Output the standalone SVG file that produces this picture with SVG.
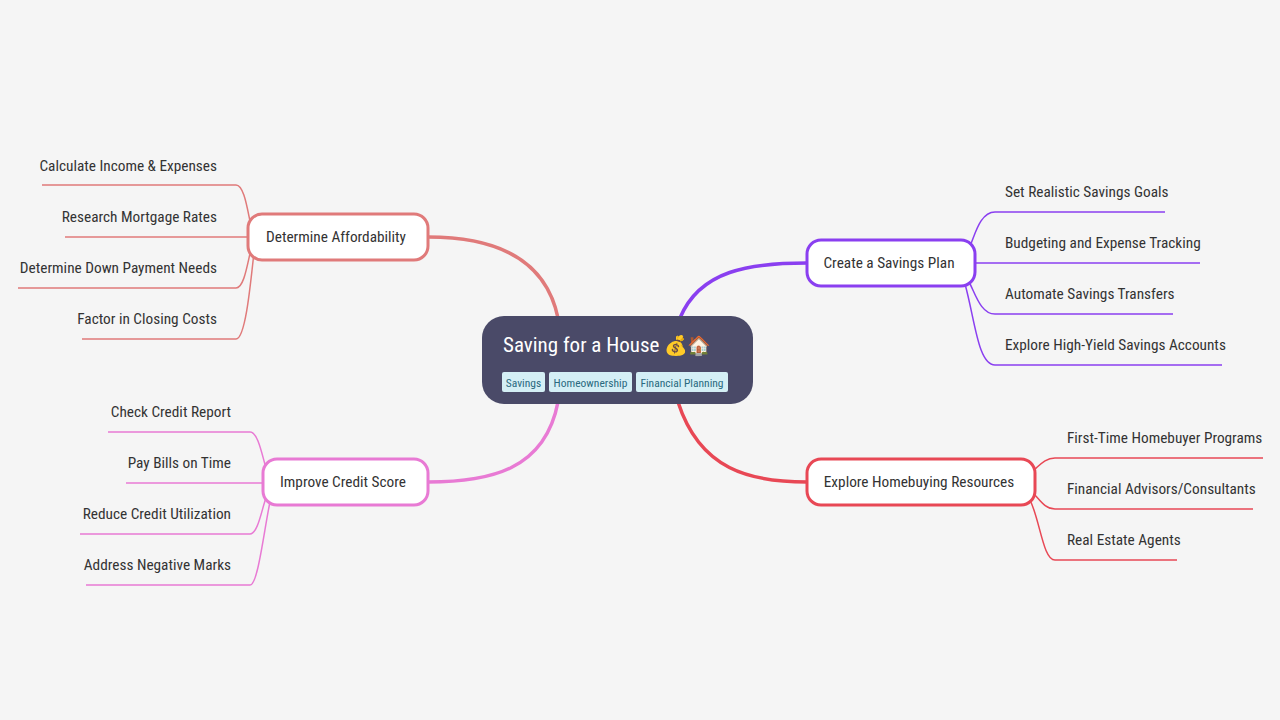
<svg xmlns="http://www.w3.org/2000/svg" width="1280" height="720" viewBox="0 0 1280 720">
<style>
text{font-family:"Liberation Sans Narrow","Roboto Condensed","Open Sans",sans-serif;}
.leaf{font-size:15.3px;fill:#333;}
.node{fill:#fff;stroke-width:3;}
.nt{font-size:15.3px;fill:#333;text-anchor:middle;}
.c{fill:none;stroke-width:1.5;}
.m{fill:none;stroke-width:3.5;}
.tag{fill:#d4eff5;}
.tt{font-size:11.5px;fill:#2a6a80;text-anchor:middle;}
.r{text-anchor:end;}
</style>
<rect width="1280" height="720" fill="#f5f5f5"/>
<g id="connectors">
<path class="m" stroke="#e07a7a" d="M558,318 C545,255 490,237 428,237"/>
<path class="m" stroke="#8a3ff0" d="M680,318 C700,270 750,263 807,263"/>
<path class="m" stroke="#e84855" d="M678,402 C700,470 750,482 807,482"/>
<path class="m" stroke="#e87ad4" d="M558,402 C545,470 490,482 428,482"/>
<g stroke="#e07a7a">
<path class="c" d="M42,185 H236 C245,185 248,215 252,230"/>
<path class="c" d="M65,237 H248"/>
<path class="c" d="M18,288 H236 C245,288 248,258 252,246"/>
<path class="c" d="M82,339 H236 C245,339 250,290 254,252"/>
</g>
<g stroke="#8a3ff0">
<path class="c" d="M1165,212 H995 C980,212 975,235 970,246"/>
<path class="c" d="M1200,263 H975"/>
<path class="c" d="M1173,314 H995 C980,314 975,292 968,280"/>
<path class="c" d="M1222,365 H995 C978,365 975,320 965,284"/>
</g>
<g stroke="#e84855">
<path class="c" d="M1263,458 H1055 C1045,458 1040,465 1034,470"/>
<path class="c" d="M1253,509 H1055 C1045,509 1040,500 1034,494"/>
<path class="c" d="M1177,560 H1055 C1043,560 1040,520 1030,500"/>
</g>
<g stroke="#e87ad4">
<path class="c" d="M108,432 H250 C258,432 262,455 266,468"/>
<path class="c" d="M126,483 H263"/>
<path class="c" d="M80,534 H250 C258,534 262,508 266,498"/>
<path class="c" d="M86,585 H250 C258,585 264,530 270,502"/>
</g>
</g>
<g id="center">
<rect x="482" y="316" width="271" height="88" rx="22" fill="#4a4a68"/>
<text x="503" y="352" font-size="21" fill="#fff">Saving for a House <tspan font-size="19" font-family="Noto Color Emoji,sans-serif">💰🏠</tspan></text>
<rect class="tag" x="502" y="372" width="43" height="20" rx="2"/><text class="tt" x="523.5" y="387">Savings</text>
<rect class="tag" x="549" y="372" width="83" height="20" rx="2"/><text class="tt" x="590.5" y="387">Homeownership</text>
<rect class="tag" x="636" y="372" width="92" height="20" rx="2"/><text class="tt" x="682" y="387">Financial Planning</text>
</g>
<g id="n-afford">
<rect class="node" stroke="#e07a7a" x="248" y="214" width="180" height="46" rx="14"/>
<text class="nt" x="336" y="242">Determine Affordability</text>
<text class="leaf r" x="217" y="171">Calculate Income &amp; Expenses</text>
<text class="leaf r" x="217" y="222">Research Mortgage Rates</text>
<text class="leaf r" x="217" y="273">Determine Down Payment Needs</text>
<text class="leaf r" x="217" y="324">Factor in Closing Costs</text>
</g>
<g id="n-plan">
<rect class="node" stroke="#8a3ff0" x="807" y="240" width="168" height="46" rx="14"/>
<text class="nt" x="889" y="268">Create a Savings Plan</text>
<text class="leaf" x="1005" y="197">Set Realistic Savings Goals</text>
<text class="leaf" x="1005" y="248">Budgeting and Expense Tracking</text>
<text class="leaf" x="1005" y="299">Automate Savings Transfers</text>
<text class="leaf" x="1005" y="350">Explore High-Yield Savings Accounts</text>
</g>
<g id="n-home">
<rect class="node" stroke="#e84855" x="807" y="459" width="228" height="46" rx="14"/>
<text class="nt" x="919" y="487">Explore Homebuying Resources</text>
<text class="leaf" x="1067" y="443">First-Time Homebuyer Programs</text>
<text class="leaf" x="1067" y="494">Financial Advisors/Consultants</text>
<text class="leaf" x="1067" y="545">Real Estate Agents</text>
</g>
<g id="n-credit">
<rect class="node" stroke="#e87ad4" x="263" y="459" width="165" height="46" rx="14"/>
<text class="nt" x="343" y="487">Improve Credit Score</text>
<text class="leaf r" x="231" y="417">Check Credit Report</text>
<text class="leaf r" x="231" y="468">Pay Bills on Time</text>
<text class="leaf r" x="231" y="519">Reduce Credit Utilization</text>
<text class="leaf r" x="231" y="570">Address Negative Marks</text>
</g>
</svg>
